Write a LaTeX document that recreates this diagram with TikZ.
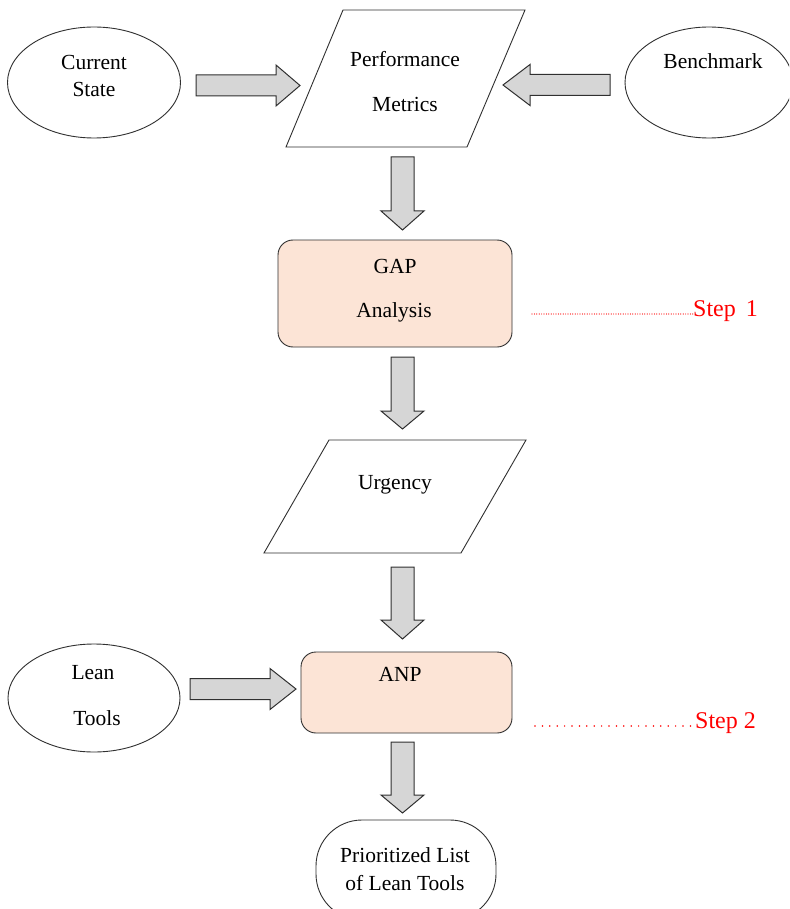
\documentclass[tikz,border=0pt]{standalone}
\usepackage{fontspec}
\setmainfont{Liberation Serif}
\usetikzlibrary{shapes.geometric,calc}
\definecolor{arrfill}{HTML}{D6D6D6}
\definecolor{boxfill}{HTML}{FCE4D6}
\definecolor{edgecol}{HTML}{303030}
\definecolor{stepred}{HTML}{FF0000}
\tikzset{
  shapeline/.style={draw=edgecol, line width=0.9pt},
  oval/.style={ellipse, shapeline, fill=white, inner sep=0pt},
  procbox/.style={rectangle, rounded corners=15pt, shapeline, fill=boxfill, inner sep=0pt},
  txt/.style={font=\fontsize{21.5}{24}\selectfont, inner sep=0pt, text=black},
  steptxt/.style={font=\fontsize{24}{28}\selectfont, text=stepred, inner sep=0pt},
  fatarr/.style={draw=edgecol, fill=arrfill, line width=1pt, line join=miter},
  stepdotsA/.style={draw=stepred, line width=1.2pt, line cap=round, dash pattern=on 0pt off 2.4pt},
  stepdotsB/.style={draw=stepred, line width=1.7pt, line cap=round, dash pattern=on 0pt off 7.4pt},
}
\newcommand\fatright[3]{%
  \draw[fatarr] ($(#1)+(0,-10.5)$) -- ($(#2)+(-#3,-10.5)$) -- ($(#2)+(-#3,-20.5)$) -- (#2)
    -- ($(#2)+(-#3,20.5)$) -- ($(#2)+(-#3,10.5)$) -- ($(#1)+(0,10.5)$) -- cycle;}
\newcommand\fatleft[3]{%
  \draw[fatarr] ($(#1)+(0,-10.5)$) -- ($(#2)+(#3,-10.5)$) -- ($(#2)+(#3,-20.5)$) -- (#2)
    -- ($(#2)+(#3,20.5)$) -- ($(#2)+(#3,10.5)$) -- ($(#1)+(0,10.5)$) -- cycle;}
\newcommand\fatdown[3]{%
  \draw[fatarr] ($(#1)+(-11.5,0)$) -- ($(#2)+(-11.5,-#3)$) -- ($(#2)+(-21.5,-#3)$) -- (#2)
    -- ($(#2)+(21.5,-#3)$) -- ($(#2)+(11.5,-#3)$) -- ($(#1)+(11.5,0)$) -- cycle;}
\begin{document}
\begin{tikzpicture}[x=1pt,y=-1pt]
\useasboundingbox (0,0) rectangle (789,909);
\fill[white] (0,0) rectangle (789,909);

\begin{scope}
\clip (0,0) rectangle (789,909);
% ovals
\node[oval, minimum width=173pt, minimum height=111pt] (cs) at (94,82.5) {};
\node[oval, minimum width=168pt, minimum height=111pt] (bm) at (709,82.5) {};
\node[oval, minimum width=172pt, minimum height=108pt] (lt) at (94,698) {};
% final terminal
\node[draw=edgecol, line width=0.9pt, rounded corners=46pt, minimum width=180pt, minimum height=100pt, inner sep=0pt] (pl) at (406,870) {};
\end{scope}

% parallelograms
\coordinate (pm1) at (343,10); \coordinate (pm2) at (525,10);
\coordinate (pm3) at (467,147); \coordinate (pm4) at (286,147);
\draw[shapeline, fill=white] (pm1) -- (pm2) -- (pm3) -- (pm4) -- cycle;
\coordinate (ur1) at (329,440); \coordinate (ur2) at (526,440);
\coordinate (ur3) at (461,553); \coordinate (ur4) at (264,553);
\draw[shapeline, fill=white] (ur1) -- (ur2) -- (ur3) -- (ur4) -- cycle;

% process boxes
\node[procbox, minimum width=234pt, minimum height=107pt] (gap) at (395,293.5) {};
\node[procbox, minimum width=211pt, minimum height=81pt] (anp) at (406.5,692.5) {};

% texts
\node[txt] (tcs1) at (94,62) {Current};
\node[txt] (tcs2) at (94,89) {State};
\node[txt] (tbm) at (713,61) {Benchmark};
\node[txt] (tpm1) at (405,59) {Performance};
\node[txt] (tpm2) at (405,104) {Metrics};
\node[txt] (tgap1) at (395,266) {GAP};
\node[txt] (tgap2) at (394,312) {Analysis};
\node[txt] (tur) at (395,485) {Urgency};
\node[txt] (tanp) at (400,674) {ANP};
\node[txt] (tlt1) at (93,673) {Lean};
\node[txt] (tlt2) at (97,718) {Tools};
\node[txt] (tpl1) at (405,855) {Prioritized List};
\node[txt] (tpl2) at (405,883) {of Lean Tools};

% steps
\node[steptxt, anchor=base west] (s1) at (693,316) {Step\, 1};
\node[steptxt, anchor=base west] (s2) at (695,728) {Step 2};
\coordinate (d1) at (532,314);
\coordinate (d2) at (535,726);
\draw[stepdotsA] (d1) -- (d1 -| s1.west);
\draw[stepdotsB] (d2) -- (d2 -| s2.west);

% fat arrows
\coordinate (a1s) at (196,85.5); \coordinate (a1e) at (300,85.5);
\fatright{a1s}{a1e}{24}
\coordinate (a2s) at (610,85); \coordinate (a2e) at (503,85);
\fatleft{a2s}{a2e}{27}
\coordinate (a3s) at (402.5,157); \coordinate (a3e) at (402.5,230);
\fatdown{a3s}{a3e}{19}
\coordinate (a4s) at (402.5,357); \coordinate (a4e) at (402.5,429);
\fatdown{a4s}{a4e}{18}
\coordinate (a5s) at (402.5,567); \coordinate (a5e) at (402.5,639);
\fatdown{a5s}{a5e}{19}
\coordinate (a6s) at (190,689); \coordinate (a6e) at (296,689);
\fatright{a6s}{a6e}{26}
\coordinate (a7s) at (402.5,742); \coordinate (a7e) at (402.5,813);
\fatdown{a7s}{a7e}{18}
\end{tikzpicture}
\end{document}
